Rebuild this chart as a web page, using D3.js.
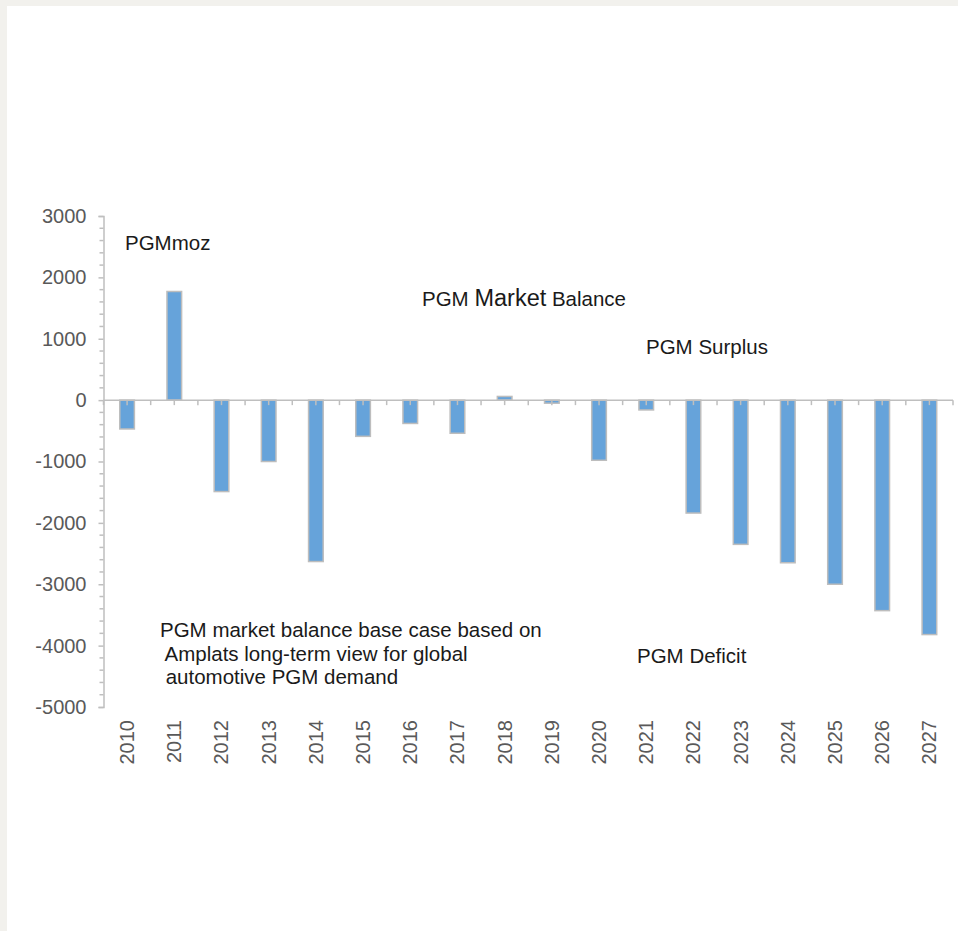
<!DOCTYPE html>
<html>
<head>
<meta charset="utf-8">
<script src="https://cdn.jsdelivr.net/npm/d3@7"></script>
<style>
  html, body { margin: 0; padding: 0; background: #f2f1ed; }
  svg { display: block; }
  text { font-family: "Liberation Sans", Arial, Helvetica, sans-serif; }
</style>
</head>
<body>
<svg id="chart" width="958" height="931"></svg>
<script>
const years = ["2010","2011","2012","2013","2014","2015","2016","2017","2018","2019","2020","2021","2022","2023","2024","2025","2026","2027"];
const balance = [-470, 1770, -1490, -1000, -2630, -590, -380, -540, 60, -50, -980, -160, -1840, -2350, -2650, -3000, -3430, -3820];
const yTicks = [3000, 2000, 1000, 0, -1000, -2000, -3000, -4000, -5000];
const notes = [
  {t: "PGMmoz", x: 125, y: 250},
  {t: "PGM Surplus", x: 646, y: 354},
  {t: "PGM Deficit", x: 637, y: 663},
  {t: "PGM market balance base case based on", x: 160, y: 637},
  {t: " Amplats long-term view for global", x: 160, y: 661},
  {t: " automotive PGM demand", x: 160, y: 684}
];

const svg = d3.select("#chart");
// panel
svg.append("rect").attr("x", 7).attr("y", 6).attr("width", 951).attr("height", 925).attr("fill", "#ffffff");

const x0 = 103.5, x1 = 953, yTop = 216, yBot = 707;
const x = d3.scaleBand().domain(years).range([x0, x1]).padding(0);
const y = d3.scaleLinear().domain([-5000, 3000]).range([yBot, yTop]);
const axisCol = "#bfbfbf";

// y axis
const yAxis = d3.axisLeft(y).tickValues(yTicks).tickSize(5).tickPadding(12).tickFormat(d => String(d));
const gy = svg.append("g").attr("transform", `translate(${x0},0)`).call(yAxis);
gy.select(".domain").attr("stroke", axisCol).attr("stroke-width", 1.5);
gy.selectAll(".tick line").attr("stroke", axisCol).attr("stroke-width", 1.5);
gy.selectAll(".tick text").attr("fill", "#595959").style("font-size", "20px")
  .style("font-family", '"Liberation Sans", Arial, sans-serif');
// minor ticks
const minor = d3.range(-5000, 3001, 200).filter(v => v % 1000 !== 0);
svg.append("g").selectAll("line").data(minor).join("line")
  .attr("x1", x0 - 4).attr("x2", x0).attr("y1", d => y(d)).attr("y2", d => y(d))
  .attr("stroke", axisCol).attr("stroke-width", 1.5);

// bars
const bw = x.bandwidth() * 0.31;
svg.append("g").selectAll("rect").data(years).join("rect")
  .attr("x", d => x(d) + x.bandwidth() / 2 - bw / 2)
  .attr("width", bw)
  .attr("y", (d, i) => y(Math.max(0, balance[i])))
  .attr("height", (d, i) => Math.abs(y(balance[i]) - y(0)))
  .attr("fill", "#66a3da")
  .attr("stroke", "#bdbdbd").attr("stroke-width", 1.5);

// x axis line + ticks (boundaries and centres)
const y0 = y(0);
const xt = [];
years.forEach(d => { xt.push(x(d)); xt.push(x(d) + x.bandwidth() / 2); });
xt.push(x1);
svg.append("line").attr("x1", x0).attr("x2", x1).attr("y1", y0).attr("y2", y0)
  .attr("stroke", axisCol).attr("stroke-width", 1.5);
svg.append("g").selectAll("line").data(xt).join("line")
  .attr("x1", d => d).attr("x2", d => d).attr("y1", y0).attr("y2", y0 + 5)
  .attr("stroke", axisCol).attr("stroke-width", 1.5);

// year labels
svg.append("g").selectAll("text").data(years).join("text")
  .attr("transform", d => `translate(${x(d) + x.bandwidth() / 2 + 7},720) rotate(-90)`)
  .attr("text-anchor", "end")
  .attr("fill", "#595959").style("font-size", "20px")
  .text(d => d);

// annotations
svg.append("g").selectAll("text").data(notes).join("text")
  .attr("x", d => d.x).attr("y", d => d.y)
  .attr("fill", "#1a1a1a").style("font-size", "20.5px")
  .style("white-space", "pre").attr("xml:space", "preserve")
  .text(d => d.t);

const title = svg.append("text").attr("x", 422).attr("y", 306).attr("fill", "#1a1a1a").style("font-size", "20.5px");
title.append("tspan").text("PGM ");
title.append("tspan").style("font-size", "23.5px").text("Market");
title.append("tspan").text(" Balance");
</script>
</body>
</html>
